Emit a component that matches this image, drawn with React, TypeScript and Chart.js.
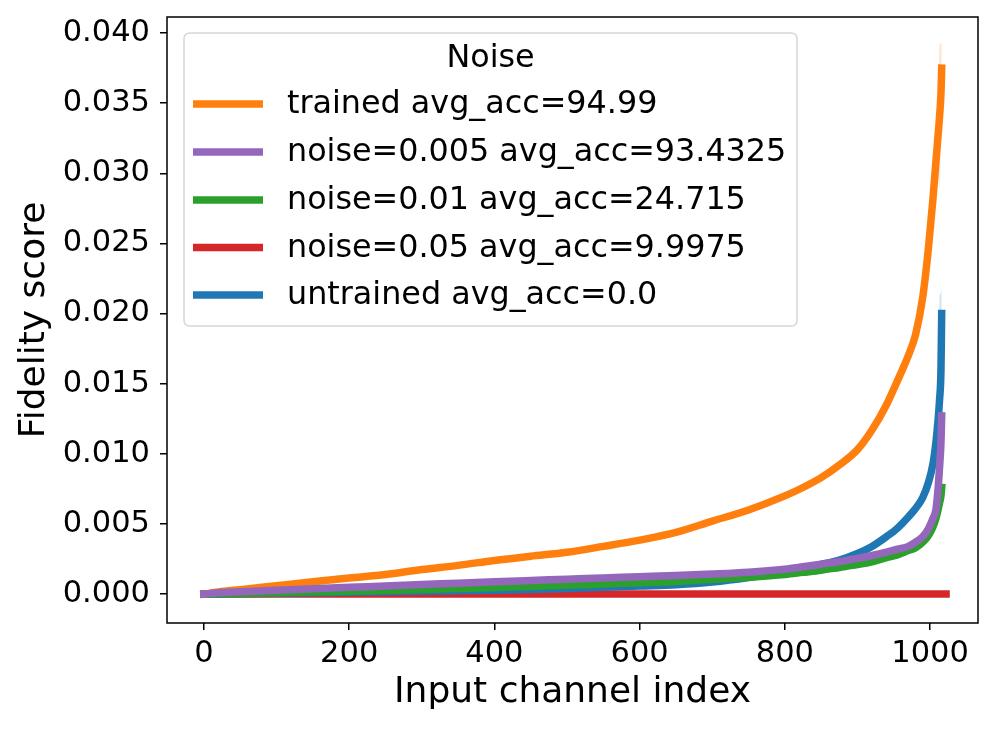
import React, { useEffect, useRef } from "react";
import { Chart, registerables } from "chart.js";

Chart.register(...registerables);

// ---- data ----
const CHANNEL_INDEX = [0, 20, 50, 100, 150, 200, 250, 300, 350, 400, 450, 500, 550, 600, 650, 700, 750, 800, 825, 850, 875, 900, 920, 940, 955, 970, 980, 990, 998, 1004, 1008, 1011, 1013, 1015, 1016];

const TRAINED = [0, 0.00015, 0.00032, 0.0006, 0.00088, 0.00115, 0.0014, 0.00175, 0.00205, 0.0024, 0.0027, 0.00298, 0.0034, 0.00385, 0.0044, 0.0052, 0.006, 0.007, 0.0076, 0.0083, 0.0092, 0.0103, 0.0117, 0.0135, 0.0152, 0.017, 0.0185, 0.0212, 0.0248, 0.0282, 0.0308, 0.0327, 0.034, 0.0357, 0.0375];
const TRAINED_STD = [0, 0, 0, 0, 0, 0, 0, 0, 0, 0, 0, 0, 0, 0, 0, 0, 0, 0, 0, 0, 0, 0, 0, 0, 0, 0, 0, 0, 0.0002, 0.0004, 0.0012, 0.003, 0.0052, 0.0036, 0.0018];

const NOISE_005 = [0, 0.0001, 0.00017, 0.00028, 0.00038, 0.00048, 0.00058, 0.00068, 0.00078, 0.00088, 0.00097, 0.00106, 0.00115, 0.00124, 0.00133, 0.00143, 0.00156, 0.00178, 0.00195, 0.00213, 0.00232, 0.00255, 0.00275, 0.003, 0.0032, 0.0034, 0.0037, 0.0041, 0.0047, 0.0054, 0.006, 0.0075, 0.009, 0.0108, 0.0127];

const NOISE_01 = [0, 0.00002, 0.00005, 0.0001, 0.00015, 0.0002, 0.00026, 0.00033, 0.0004, 0.00047, 0.00055, 0.00063, 0.00072, 0.00081, 0.0009, 0.00105, 0.0012, 0.0014, 0.00155, 0.0017, 0.0019, 0.0021, 0.0023, 0.0026, 0.0028, 0.0031, 0.0033, 0.0037, 0.0042, 0.0048, 0.0054, 0.006, 0.0065, 0.007, 0.0076];

const NOISE_05_INDEX = [0, 200, 400, 600, 800, 1000, 1022];
const NOISE_05 = [0, 0, 0, 0, 0, 0, 0];

const UNTRAINED = [0, 0.00001, 0.00003, 0.00006, 0.0001, 0.00013, 0.00017, 0.0002, 0.00024, 0.00028, 0.00033, 0.0004, 0.00048, 0.00057, 0.00067, 0.00086, 0.00118, 0.0016, 0.00185, 0.00212, 0.00243, 0.0029, 0.0034, 0.0041, 0.0047, 0.0055, 0.0061, 0.0069, 0.008, 0.0093, 0.0108, 0.0124, 0.0138, 0.016, 0.02];
const UNTRAINED_STD = [0, 0, 0, 0, 0, 0, 0, 0, 0, 0, 0, 0, 0, 0, 0, 0, 0, 0, 0, 0, 0, 0, 0, 0, 0, 0, 0, 0, 0, 0.0001, 0.0005, 0.003, 0.0075, 0.0055, 0.0018];

const SERIES_LABELS = [
  "trained avg_acc=94.99",
  "noise=0.005 avg_acc=93.4325",
  "noise=0.01 avg_acc=24.715",
  "noise=0.05 avg_acc=9.9975",
  "untrained avg_acc=0.0",
];
const LEGEND_TITLE = "Noise";
const X_TICKS = [0, 200, 400, 600, 800, 1000];
const Y_TICKS = [0, 0.005, 0.01, 0.015, 0.02, 0.025, 0.03, 0.035, 0.04];
const X_LABEL = "Input channel index";
const Y_LABEL = "Fidelity score";

// ---- styles ----
const FONT = "DejaVu Sans";
const C_ORANGE = "#ff7f0e";
const C_PURPLE = "#9467bd";
const C_GREEN = "#2ca02c";
const C_RED = "#d62728";
const C_BLUE = "#1f77b4";
const LW = 7.5;

const pts = (xs: number[], ys: number[]) => xs.map((x, i) => ({ x, y: ys[i] }));

const spinesPlugin = {
  id: "spines",
  afterDatasetsDraw(chart: any) {
    const { ctx, chartArea } = chart;
    ctx.save();
    ctx.strokeStyle = "#000";
    ctx.lineWidth = 1.5;
    ctx.strokeRect(chartArea.left, chartArea.top, chartArea.right - chartArea.left, chartArea.bottom - chartArea.top);
    ctx.restore();
  },
};

const legendPlugin = {
  id: "mplLegend",
  afterDraw(chart: any) {
    const ctx = chart.ctx;
    const x0 = 184, y0 = 33, x1 = 797, y1 = 326, r = 6;
    ctx.save();
    ctx.beginPath();
    ctx.moveTo(x0 + r, y0);
    ctx.lineTo(x1 - r, y0);
    ctx.quadraticCurveTo(x1, y0, x1, y0 + r);
    ctx.lineTo(x1, y1 - r);
    ctx.quadraticCurveTo(x1, y1, x1 - r, y1);
    ctx.lineTo(x0 + r, y1);
    ctx.quadraticCurveTo(x0, y1, x0, y1 - r);
    ctx.lineTo(x0, y0 + r);
    ctx.quadraticCurveTo(x0, y0, x0 + r, y0);
    ctx.closePath();
    ctx.fillStyle = "rgba(255,255,255,0.8)";
    ctx.fill();
    ctx.strokeStyle = "#d6d6d6";
    ctx.lineWidth = 1.5;
    ctx.stroke();

    ctx.fillStyle = "#000";
    ctx.font = `31.8px "${FONT}"`;
    ctx.textBaseline = "middle";
    ctx.textAlign = "center";
    ctx.fillText(LEGEND_TITLE, (x0 + x1) / 2, 59);

    const items = chart.data.datasets
      .filter((d: any) => d.legendRank !== undefined)
      .sort((a: any, b: any) => a.legendRank - b.legendRank);
    const rowY = [104, 152, 200, 247.5, 295];
    ctx.textAlign = "left";
    items.forEach((d: any, i: number) => {
      const y = rowY[i];
      ctx.beginPath();
      ctx.strokeStyle = d.borderColor;
      ctx.lineWidth = LW;
      ctx.lineCap = "butt";
      ctx.moveTo(193, y);
      ctx.lineTo(263, y);
      ctx.stroke();
      ctx.fillStyle = "#000";
      ctx.fillText(d.label, 287, y + 1);
    });
    ctx.restore();
  },
};

export default function App() {
  const ref = useRef<HTMLCanvasElement | null>(null);

  useEffect(() => {
    if (!ref.current) return;
    const lineDs = (label: string, xs: number[], ys: number[], color: string, rank: number, order: number) => ({
      label,
      data: pts(xs, ys),
      borderColor: color,
      backgroundColor: color,
      borderWidth: LW,
      pointRadius: 0,
      pointHoverRadius: 0,
      cubicInterpolationMode: "monotone",
      fill: false,
      borderCapStyle: "square",
      borderJoinStyle: "round",
      legendRank: rank,
      order,
    });
    const bandLower = (ys: number[], sd: number[], order: number) => ({
      label: "_band_lower",
      data: CHANNEL_INDEX.map((x, i) => ({ x, y: ys[i] - sd[i] })),
      borderWidth: 0,
      borderColor: "rgba(0,0,0,0)",
      pointRadius: 0,
      fill: false,
      order,
    });
    const bandUpper = (ys: number[], sd: number[], target: number, color: string, order: number) => ({
      label: "_band_upper",
      data: CHANNEL_INDEX.map((x, i) => ({ x, y: ys[i] + sd[i] })),
      borderWidth: 0,
      borderColor: "rgba(0,0,0,0)",
      backgroundColor: color,
      pointRadius: 0,
      fill: { target },
      order,
    });

    const datasets: any[] = [
      bandLower(TRAINED, TRAINED_STD, 20),
      bandUpper(TRAINED, TRAINED_STD, 0, "rgba(255,127,14,0.2)", 20),
      bandLower(UNTRAINED, UNTRAINED_STD, 20),
      bandUpper(UNTRAINED, UNTRAINED_STD, 2, "rgba(31,119,180,0.2)", 20),
      lineDs(SERIES_LABELS[3], NOISE_05_INDEX, NOISE_05, C_RED, 3, 6),
      lineDs(SERIES_LABELS[4], CHANNEL_INDEX, UNTRAINED, C_BLUE, 4, 5),
      lineDs(SERIES_LABELS[2], CHANNEL_INDEX, NOISE_01, C_GREEN, 2, 4),
      lineDs(SERIES_LABELS[0], CHANNEL_INDEX, TRAINED, C_ORANGE, 0, 3),
      lineDs(SERIES_LABELS[1], CHANNEL_INDEX, NOISE_005, C_PURPLE, 1, 2),
    ];

    const tickFont = { family: FONT, size: 30.5 };
    const titleFont = { family: FONT, size: 36 };
    const gridOpts = {
      display: true,
      drawOnChartArea: false,
      drawTicks: true,
      tickLength: 7,
      tickColor: "#000",
      tickWidth: 1.5,
      color: "#000",
      lineWidth: 1.5,
    };

    const chart = new Chart(ref.current, {
      type: "line",
      data: { datasets },
      options: {
        animation: false,
        responsive: false,
        maintainAspectRatio: false,
        events: [],
        layout: { padding: { left: 0, top: 17, right: 19, bottom: 0 } },
        plugins: {
          legend: { display: false },
          tooltip: { enabled: false },
          filler: { propagate: false },
        },
        scales: {
          x: {
            type: "linear",
            min: -50.9,
            max: 1066,
            afterBuildTicks: (s: any) => {
              s.ticks = X_TICKS.map((v) => ({ value: v }));
            },
            afterFit: (s: any) => {
              s.height = 106;
              s.paddingLeft = 0;
              s.paddingRight = 0;
            },
            grid: gridOpts,
            border: { display: false },
            ticks: {
              color: "#000",
              font: tickFont,
              padding: 6,
              maxRotation: 0,
              autoSkip: false,
              callback: (v: any) => String(Math.round(Number(v))),
            },
            title: {
              display: true,
              text: X_LABEL,
              color: "#000",
              font: titleFont,
              padding: { top: 0, bottom: 15 },
            },
          },
          y: {
            type: "linear",
            min: -0.00206,
            max: 0.04114,
            afterBuildTicks: (s: any) => {
              s.ticks = Y_TICKS.map((v) => ({ value: v }));
            },
            afterFit: (s: any) => {
              s.width = 167;
              s.paddingTop = 0;
              s.paddingBottom = 0;
            },
            grid: gridOpts,
            border: { display: false },
            ticks: {
              color: "#000",
              font: tickFont,
              padding: 10,
              autoSkip: false,
              callback: (v: any) => Number(v).toFixed(3),
            },
            title: {
              display: true,
              text: Y_LABEL,
              color: "#000",
              font: titleFont,
              padding: { top: 13, bottom: 0 },
            },
          },
        },
      },
      plugins: [spinesPlugin, legendPlugin],
    } as any);

    return () => chart.destroy();
  }, []);

  return (
    <div style={{ position: "absolute", left: 0, top: 0, width: 997, height: 729, background: "#fff" }}>
      <canvas ref={ref} width={997} height={729} style={{ width: 997, height: 729, display: "block" }} />
    </div>
  );
}
